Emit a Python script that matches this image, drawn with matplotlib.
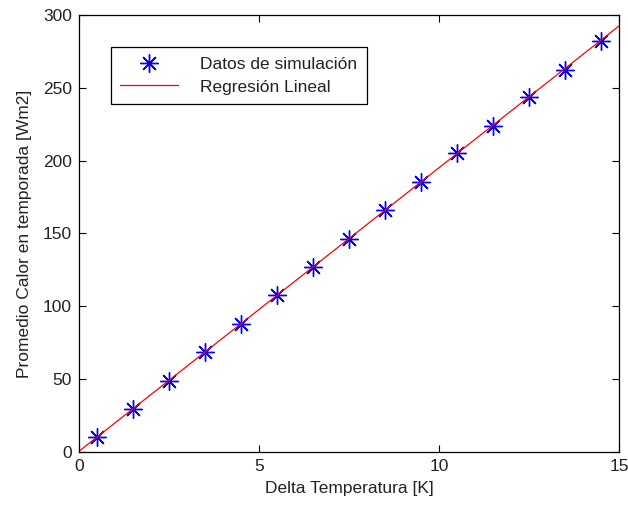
import numpy as np
import matplotlib
matplotlib.use("Agg")
import matplotlib.pyplot as plt

plt.rcParams['font.family'] = ['Liberation Sans', 'DejaVu Sans']

# datos
delta_t = [0.5, 1.5, 2.5, 3.5, 4.5, 5.5, 6.5, 7.5, 8.5, 9.5, 10.5, 11.5, 12.5, 13.5, 14.5]
calor = [10, 29.5, 49, 68.5, 88, 107.5, 127, 146, 166, 185.5, 205, 224, 243.5, 262.5, 282]
reg_x = [0, 15]
reg_y = [0.5, 292.5]

fig = plt.figure(figsize=(6.28, 5.05), dpi=100)
ax = fig.add_axes([0.1258, 0.105, 0.86, 0.8653])

ax.plot(delta_t, calor, linestyle='none', marker=(8, 2, 0), markersize=13,
        markeredgewidth=1.0, color='blue', label='Datos de simulación')
ax.plot(reg_x, reg_y, color='red', linewidth=0.9, label='Regresión Lineal')

ax.set_xlim(0, 15)
ax.set_ylim(0, 300)
ax.set_xticks([0, 5, 10, 15])
ax.set_yticks(range(0, 301, 50))
ax.tick_params(direction='in', top=True, right=True, labelsize=12.5, length=5, pad=5,
               labelcolor='#222222')
for s in ax.spines.values():
    s.set_linewidth(0.9)

ax.set_xlabel('Delta Temperatura [K]', fontsize=12.5, labelpad=5, color='#222222')
ax.set_ylabel('Promedio Calor en temporada [Wm2]', fontsize=12.5, labelpad=8, color='#222222')

leg = ax.legend(loc='upper left', bbox_to_anchor=(0.059, 0.927), borderaxespad=0,
                fontsize=12.5, handlelength=3.3, handletextpad=1.3, fancybox=False,
                edgecolor='black', framealpha=1, borderpad=0.55, labelspacing=0.45)
leg.get_frame().set_linewidth(0.9)
for t in leg.get_texts():
    t.set_color('#222222')

fig.savefig('out.png', dpi=100)
